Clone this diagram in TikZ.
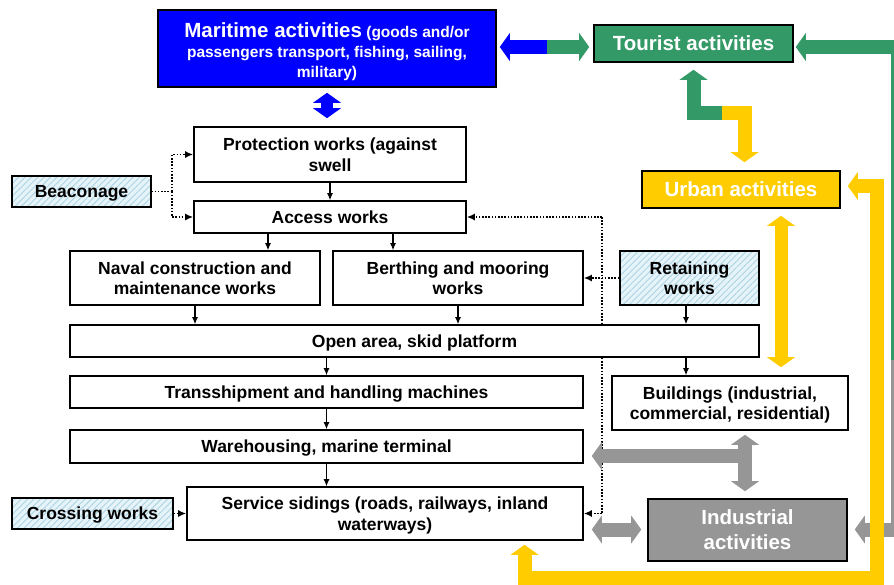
\documentclass[tikz,border=0pt]{standalone}
\usepackage{fontspec}
\setmainfont{Liberation Sans}
\usetikzlibrary{arrows.meta,patterns.meta,calc}
\pgfdeclarelayer{bg}
\pgfdeclarelayer{dots}
\pgfsetlayers{bg,dots,main}
\definecolor{tgreen}{RGB}{51,153,102}
\definecolor{uyellow}{RGB}{255,204,0}
\definecolor{igray}{RGB}{150,150,150}
\definecolor{mblue}{RGB}{0,0,255}
\definecolor{hatchbg}{RGB}{230,243,248}
\definecolor{hatchln}{RGB}{172,213,230}
\tikzset{
 basebox/.style={draw=black,line width=1.6pt,inner sep=0pt,align=center,text depth=0pt,font=\bfseries\fontsize{17.5}{20.5}\selectfont},
 box/.style={basebox,fill=white},
 hatchbox/.style={basebox,preaction={fill=hatchbg},pattern={Lines[angle=45,distance=4.5pt,line width=0.9pt]},pattern color=hatchln},
 actbox/.style={basebox,text=white,font=\bfseries\fontsize{20.5}{25}\selectfont},
 conn/.style={line width=1.1pt,-{Latex[length=7pt,width=6pt]}},
 dotline/.style={line width=1.8pt,dash pattern=on 1.6pt off 1.6pt},
 dotconn/.style={dotline,-{Latex[length=8pt,width=7pt]}},
 blk/.style={line width=14pt,line join=miter},
 tipa/.tip={Triangle[length=10pt,width=28pt,line width=0pt]},
}
\begin{document}
\begin{tikzpicture}[x=1pt,y=-1pt]
\useasboundingbox (0,0) rectangle (894,584);
\begin{pgfonlayer}{bg}
\fill[white] (0,0) rectangle (894,584);
\end{pgfonlayer}
\clip (0,0) rectangle (894,584);

% boxes
\node[basebox,fill=mblue,minimum width=338pt,minimum height=77pt] (mar) at (327,48.5) {};
\node[text=white,align=center,inner sep=0pt,text depth=0pt,font=\bfseries\fontsize{15.5}{20}\selectfont] (martext) at ([yshift=-2pt]mar.center)
  {{\fontsize{20.5}{20}\selectfont Maritime activities} (goods and/or\\passengers transport, fishing, sailing,\\military)};
\node[actbox,fill=tgreen,minimum width=199pt,minimum height=37pt] (tour) at (693.5,43.5) {Tourist activities};
\node[actbox,fill=uyellow,minimum width=198pt,minimum height=37pt] (urb) at (741,189.5) {Urban activities};
\node[box,minimum width=272pt,minimum height=55pt] (prot) at (330,154.5) {Protection works (against\\swell};
\node[hatchbox,minimum width=139pt,minimum height=31pt] (beac) at (81.5,191.5) {Beaconage};
\node[box,minimum width=272pt,minimum height=32pt] (acc) at (330,217) {Access works};
\node[box,minimum width=250pt,minimum height=54pt] (nav) at (195,278) {Naval construction and\\maintenance works};
\node[box,minimum width=250pt,minimum height=54pt] (ber) at (458,278) {Berthing and mooring\\works};
\node[hatchbox,minimum width=139pt,minimum height=54pt] (ret) at (689.5,278) {Retaining\\works};
\node[box,minimum width=689pt,minimum height=32pt] (open) at (414.5,341) {Open area, skid platform};
\node[box,minimum width=513pt,minimum height=32pt] (trans) at (326.5,392) {Transshipment and handling machines};
\node[box,minimum width=236pt,minimum height=54pt] (bld) at (730,403) {Buildings (industrial,\\commercial, residential)};
\node[box,minimum width=513pt,minimum height=33pt] (ware) at (326.5,446.5) {Warehousing, marine terminal};
\node[hatchbox,minimum width=161pt,minimum height=31pt] (cross) at (92.5,513.5) {Crossing works};
\node[box,minimum width=396pt,minimum height=53pt] (serv) at (385,513.5) {Service sidings (roads, railways, inland\\waterways)};
\node[actbox,fill=igray,minimum width=199pt,minimum height=62pt] (ind) at (747.5,530) {Industrial\\activities};

% solid connectors
\draw[conn] (prot.south) -- (acc.north);
\draw[conn] ([xshift=-62pt]acc.south) -- ([xshift=-62pt]acc.south |- nav.north);
\draw[conn] ([xshift=63pt]acc.south) -- ([xshift=63pt]acc.south |- ber.north);
\draw[conn] (nav.south) -- (nav.south |- open.north);
\draw[conn] (ber.south) -- (ber.south |- open.north);
\draw[conn] ([xshift=-3.5pt]ret.south) -- ([xshift=-3.5pt]ret.south |- open.north);
\draw[conn] ([xshift=-3.5pt]ret.south |- open.south) -- ([xshift=-3.5pt]ret.south |- bld.north);
\draw[conn] (trans.north |- open.south) -- (trans.north);
\draw[conn] (trans.south) -- (ware.north);
\draw[conn] (ware.south) -- (ware.south |- serv.north);

% dotted connectors
\begin{pgfonlayer}{dots}
\coordinate (bj) at (172,191.5);
\draw[dotline] (beac.east) -- (bj);
\draw[dotconn] (bj) |- (prot.west);
\draw[dotconn] (bj) |- (acc.west);
\coordinate (dt) at (602,217);
\coordinate (db) at (602,513.5);
\draw[dotline] (dt) -- (db);
\draw[dotconn] (dt) -- (acc.east);
\draw[dotconn] (db) -- (serv.east);
\draw[dotconn] (ret.west) -- (ber.east);
\draw[dotconn] (cross.east) -- (serv.west);
\end{pgfonlayer}

% block arrows
\draw[blk,mblue,line width=12pt,{tipa}-{tipa}] ([yshift=-5pt]mar.south) -- ([yshift=8pt]prot.north -| mar.south);
\coordinate (mt) at (547,47);
\draw[blk,mblue,-{tipa}] (mt) -- ([xshift=3pt]mar.east |- mt);
\draw[blk,tgreen,-{tipa}] (mt) -- ([xshift=-4pt]tour.west |- mt);
\coordinate (tu) at (722,112.5);
\draw[blk,tgreen,-{tipa}] (tu) -| ([yshift=-7pt]tour.south);
\draw[blk,uyellow,-{tipa}] (tu) -| ([xshift=3.5pt,yshift=8pt]urb.north);
\coordinate (rg) at (898,360);
\coordinate (rb) at (898,529.5);
\draw[blk,igray,-{tipa}] (rg) -- (rb) -- ([xshift=7pt]ind.east |- rb);
\draw[blk,tgreen,-{tipa}] (rg) -- (898,47) -- ([xshift=2pt]tour.east |- 0,47);
\draw[blk,uyellow,{tipa}-{tipa}] ([xshift=7pt]urb.east |- 0,186) -- (876.5,186) -- (876.5,578) -- (524.5,578) -- ([yshift=-4pt]serv.south -| 524.5,0);
\draw[blk,uyellow,line width=13pt,{tipa}-{tipa}] ([xshift=40pt,yshift=-7pt]urb.south) -- ([yshift=8pt]bld.north -| 781,0);
\draw[blk,igray,-{tipa}] (745,456) -- ([xshift=8pt]ware.east |- 0,456);
\draw[blk,igray,{tipa}-{tipa}] ([yshift=-4pt]bld.south -| 745,0) -- ([yshift=7pt]ind.north -| 745,0);
\draw[blk,igray,{tipa}-{tipa}] ([xshift=8pt]serv.east |- 0,529.5) -- ([xshift=-6pt]ind.west |- 0,529.5);
\end{tikzpicture}
\end{document}
